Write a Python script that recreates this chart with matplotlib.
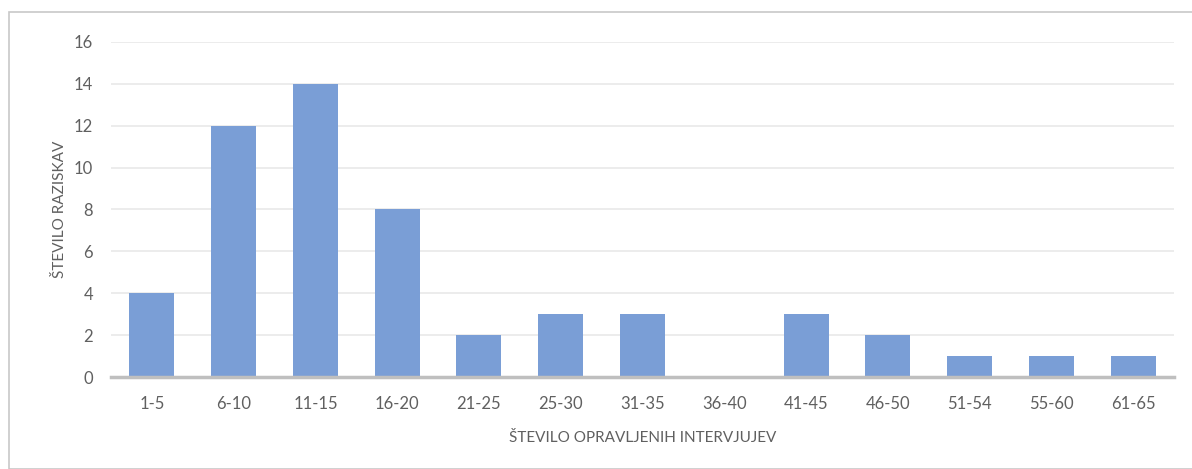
import matplotlib
matplotlib.use("Agg")
import matplotlib.pyplot as plt
from matplotlib.patches import Rectangle

categories = ["1-5", "6-10", "11-15", "16-20", "21-25", "25-30", "31-35",
              "36-40", "41-45", "46-50", "51-54", "55-60", "61-65"]
values = [4, 12, 14, 8, 2, 3, 3, 0, 3, 2, 1, 1, 1]
yticks = [0, 2, 4, 6, 8, 10, 12, 14, 16]

plt.rcParams['font.family'] = ['Lato', 'DejaVu Sans']
W, H = 1192, 469
fig = plt.figure(figsize=(W / 100, H / 100), dpi=100)
fig.patch.set_facecolor("white")

# outer chart frame
fig.patches.append(Rectangle((9 / W, 0.0), 1.2, 1 - 12 / H, transform=fig.transFigure,
                             fill=False, edgecolor="#C8C8C8", linewidth=1.2))

ax = fig.add_axes([111 / W, 1 - 377 / H, (1174 - 111) / W, (377 - 42) / H])
x = list(range(len(categories)))
ax.bar(x, values, width=0.55, color="#7A9ED6", zorder=3)
ax.set_xlim(-0.5, len(categories) - 0.5)
ax.set_ylim(0, 16)
ax.set_yticks(yticks)
ax.set_xticks(x)
ax.set_xticklabels(categories)
ax.grid(axis="y", color="#EBEBEB", linewidth=1.3, zorder=0)
for s in ["top", "right", "left"]:
    ax.spines[s].set_visible(False)
ax.spines["bottom"].set_color("#BFBFBF")
ax.spines["bottom"].set_linewidth(2.5)
ax.spines["bottom"].set_zorder(4)
ax.tick_params(axis="both", length=0, labelsize=12, labelcolor="#606060")
ax.tick_params(axis="x", pad=14)
ax.tick_params(axis="y", pad=13)
ax.set_xlabel("ŠTEVILO OPRAVLJENIH INTERVJUJEV", fontsize=11, color="#606060", labelpad=13)
ax.set_ylabel("ŠTEVILO RAZISKAV", fontsize=11, color="#606060", labelpad=5)

fig.savefig("out.png", dpi=100, facecolor="white")
